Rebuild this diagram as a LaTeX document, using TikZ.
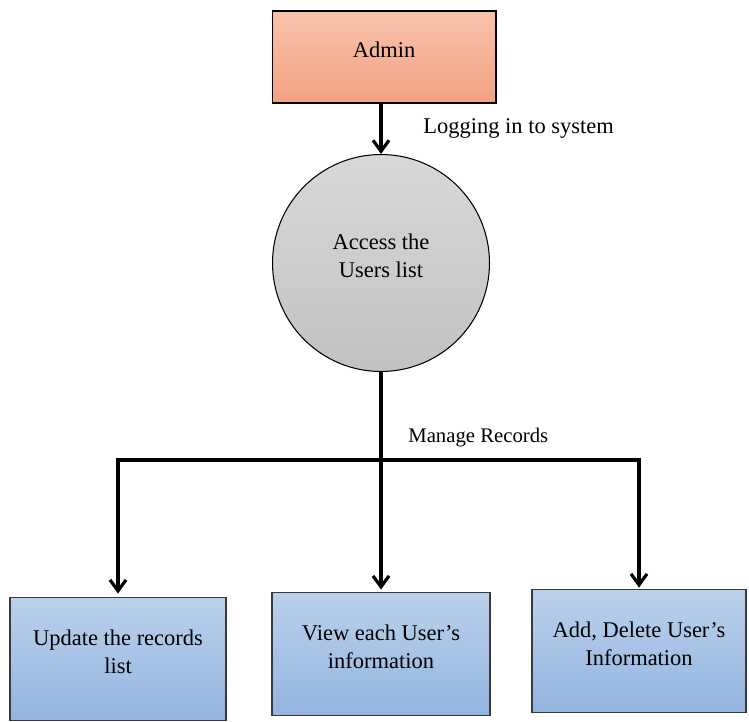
\documentclass[tikz,border=0pt]{standalone}
\usepackage{fontspec}
\setmainfont{Liberation Serif}
\usetikzlibrary{arrows.meta, positioning}
\definecolor{adminTop}{HTML}{F8C3AB}
\definecolor{adminBot}{HTML}{F4A182}
\definecolor{procTop}{HTML}{D8D8D8}
\definecolor{procBot}{HTML}{C2C2C2}
\definecolor{taskTop}{HTML}{BBD1EC}
\definecolor{taskBot}{HTML}{93B4DF}
\definecolor{edgegray}{HTML}{3A3A3A}

\begin{document}
\begin{tikzpicture}[
    x=0.02cm, y=-0.02cm,
    every node/.style={font=\fontsize{12.8pt}{15.9pt}\selectfont, text=black},
    >={Straight Barb[length=0.22cm, width=0.32cm, line width=1.8pt]},
    entity/.style={draw=black, line width=0.6pt, top color=adminTop, bottom color=adminBot,
                   minimum width=4.48cm, minimum height=1.84cm, align=center, text depth=0.28cm},
    process/.style={circle, draw=black, line width=0.6pt, top color=procTop, bottom color=procBot,
                    minimum size=4.34cm, align=center, text depth=0.3cm},
    task/.style={draw=edgegray, line width=0.8pt, top color=taskTop, bottom color=taskBot,
                 minimum width=#1, minimum height=2.47cm, align=center, text depth=0.28cm},
    flow/.style={line width=1.8pt, draw=black},
    note/.style={anchor=west, inner sep=0pt},
]

\useasboundingbox (0,0) rectangle (749,722);

% Admin entity
\node[entity] (admin) at (384,57) {Admin};

% Central process
\node[process] (access) at (381,263) {Access the\\Users list};

% Tasks
\node[task=4.32cm] (update) at (118,659) {Update the records\\list};
\node[task=4.36cm] (view) at (381,654) {View each User’s\\information};
\node[task=4.28cm] (adddel) at (639,651) {Add, Delete User’s\\Information};

% Split point
\coordinate (split) at (381,460);

% Connectors
\draw[flow, ->] (admin.south -| access.north) -- (access.north);
\node[note] (login) at (423,128) {Logging in to system};

\draw[flow] (access.south) -- (split);
\node[note, font=\fontsize{11.8pt}{14pt}\selectfont] (manage) at (408,438) {Manage Records};

\draw[flow, ->] (split) -| ([yshift=0.06cm]update.north);
\draw[flow, ->] (split) -- ([yshift=0.04cm]view.north);
\draw[flow, ->] (split) -| ([yshift=0.02cm]adddel.north);

\end{tikzpicture}
\end{document}
